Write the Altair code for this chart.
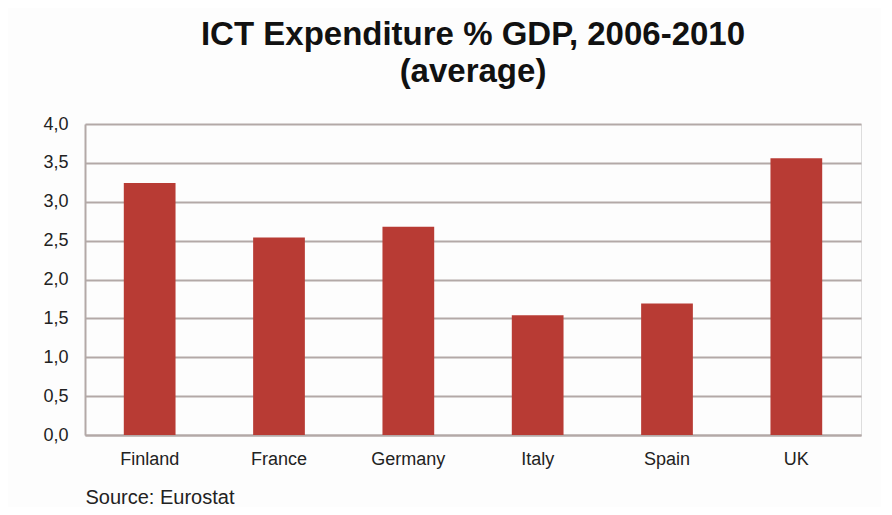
import altair as alt
import pandas as pd

countries = ["Finland", "France", "Germany", "Italy", "Spain", "UK"]
values = [3.24, 2.54, 2.68, 1.54, 1.69, 3.56]

df = pd.DataFrame({"country": countries, "value": values})

FONT = "Liberation Sans"
GRID = "#b3a9a7"

chart = alt.Chart(df).mark_bar(color="#b83b34").encode(
    x=alt.X("country:N", sort=countries,
            scale=alt.Scale(paddingInner=0.6, paddingOuter=0.3),
            axis=alt.Axis(title="Source: Eurostat", titleAnchor="start", titleAlign="left",
                          titleFont=FONT, titleFontSize=20, titleFontWeight="normal",
                          titleColor="#222222", titlePadding=19,
                          labelAngle=0, labelFont=FONT, labelFontSize=18, labelColor="#222222",
                          labelPadding=15, ticks=False, domain=True, domainColor=GRID,
                          domainWidth=2)),
    y=alt.Y("value:Q", scale=alt.Scale(domain=[0, 4]),
            axis=alt.Axis(title=None, values=[0, 0.5, 1, 1.5, 2, 2.5, 3, 3.5, 4],
                          labelExpr="replace(format(datum.value, '.1f'), '.', ',')",
                          labelFont=FONT, labelFontSize=18, labelColor="#222222",
                          labelPadding=17, ticks=False, domainColor=GRID, domainWidth=2,
                          gridColor=GRID, gridWidth=2)),
).properties(
    width=776, height=311,
    title=alt.TitleParams(["ICT Expenditure % GDP, 2006-2010", "(average)"],
                          font=FONT, fontSize=33, fontWeight="bold", color="#111111",
                          anchor="middle", lineHeight=37, offset=26),
    autosize=alt.AutoSizeParams(type="none"),
    padding={"left": 77, "top": 116, "right": 20, "bottom": 72},
).configure_view(stroke=None).configure(background="#fdfdfd")

chart.save("out.html", embed_options={"renderer": "svg", "actions": False})
